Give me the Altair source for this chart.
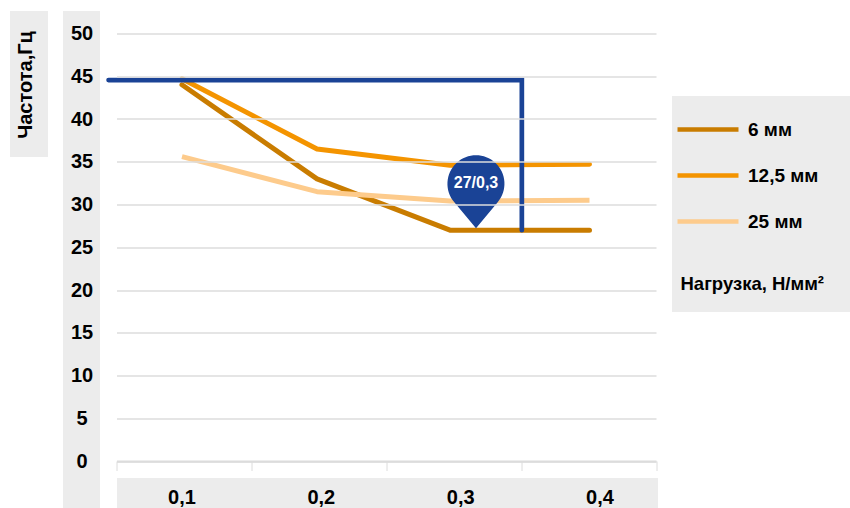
import altair as alt
import pandas as pd

FONT = "Liberation Sans"

# Chart values
loads = [0.1, 0.2, 0.3, 0.4]
load_labels = ["0,1", "0,2", "0,3", "0,4"]
series_names = ["6 мм", "12,5 мм", "25 мм"]
series_colors = ["#c97c00", "#f49400", "#fdcb8c"]
freq_6 = [44.0, 33.0, 27.0, 27.0]
freq_12 = [44.7, 36.5, 34.6, 34.7]
freq_25 = [35.6, 31.5, 30.4, 30.5]

# Working-point guide: horizontal at the limit frequency, then down to the curve
guide_x = [0.0456, 0.3515, 0.3515]
guide_y = [44.55, 44.55, 27.0]
pin_freq = [27]
pin_load = [0.3]
pin_text = ["27/0,3"]

BLUE = "#1a4396"
PANEL = "#ececec"
GRID = "#dcdcdc"

rows = []
for name, vals in zip(series_names, [freq_6, freq_12, freq_25]):
    for load, f in zip(loads, vals):
        rows.append({"load": load, "freq": f, "series": name})
lines_df = pd.DataFrame(rows)
guide_df = pd.DataFrame({"load": guide_x, "freq": guide_y, "order": [0, 1, 2]})
pin_df = pd.DataFrame({"load": pin_load, "freq": pin_freq, "text": pin_text})
axis_df = pd.DataFrame({"label": load_labels, "base": [0, 0, 0, 0]})

y_scale = alt.Scale(domain=[0, 50], nice=False, zero=True)
load_scale = alt.Scale(domain=loads, range=[65.5, 200.5, 333.5, 473], nice=False, zero=False)


def panel(x, x2, y, y2):
    return alt.Chart(axis_df).mark_rect(color=PANEL).encode(
        x=alt.value(x), x2=alt.value(x2), y=alt.value(y), y2=alt.value(y2)
    )


panels = [
    panel(-106.5, -68.5, -22.5, 123.5),
    panel(-53.5, -16.5, -22.5, 474.5),
    panel(0.5, 541.5, 444.5, 474.5),
    panel(555.5, 733.5, 62.5, 278.5),
]

# Frame: value axis with grid, plus the band axis that supplies the tick marks
frame = alt.Chart(axis_df).mark_point(opacity=0).encode(
    x=alt.X(
        "label:N",
        sort=load_labels,
        scale=alt.Scale(type="band", domain=load_labels, paddingInner=0, paddingOuter=0),
        axis=alt.Axis(
            title=None, labels=False, tickBand="extent", tickSize=9.5, tickColor=GRID,
            tickWidth=1, domainColor=GRID, domainWidth=2, grid=False, zindex=1,
        ),
    ),
    y=alt.Y(
        "base:Q",
        scale=y_scale,
        axis=alt.Axis(
            values=list(range(0, 51, 5)), grid=True, gridColor=GRID, gridWidth=1.5,
            domain=False, ticks=False, labelPadding=35, labelAlign="center",
            labelBaseline="middle", labelFont=FONT, labelFontSize=20, labelFontWeight="bold",
            labelColor="#000000", zindex=1, title="Частота,Гц", titleX=-91, titleY=51,
            titleAngle=270, titleAlign="center", titleBaseline="middle", titleFont=FONT,
            titleFontSize=20, titleFontWeight="bold", titleColor="#000000",
        ),
    ),
)

curve_encoding = dict(
    x=alt.X("load:Q", scale=load_scale, axis=None),
    y=alt.Y("freq:Q", scale=y_scale, axis=None),
    color=alt.Color(
        "series:N",
        scale=alt.Scale(domain=series_names, range=series_colors),
        sort=series_names,
        legend=alt.Legend(
            orient="none", legendX=558.5, legendY=73, title=None, symbolType="stroke",
            symbolSize=3721, symbolStrokeWidth=4.7, clipHeight=46, labelOffset=7,
            labelFont=FONT, labelFontSize=19, labelFontWeight="bold", labelColor="#000000",
            rowPadding=0, padding=0,
        ),
    ),
)

# The two darker curves end in round caps, the 25 mm curve ends square
round_curves = (
    alt.Chart(lines_df[lines_df["series"] != "25 мм"])
    .mark_line(strokeWidth=5, strokeCap="round", strokeJoin="round")
    .encode(**curve_encoding)
)
butt_curve = (
    alt.Chart(lines_df[lines_df["series"] == "25 мм"])
    .mark_line(strokeWidth=5, strokeCap="butt", strokeJoin="round")
    .encode(**curve_encoding)
)

guide = alt.Chart(guide_df).mark_line(
    color=BLUE, strokeWidth=4.7, strokeCap="round", strokeJoin="miter"
).encode(
    x=alt.X("load:Q", scale=load_scale, axis=None),
    y=alt.Y("freq:Q", scale=y_scale, axis=None),
    order="order:Q",
)

PIN_PATH = "M0,0 L-0.767,-0.919 A1,1 0 1 1 0.767,-0.919 Z"
pin = alt.Chart(pin_df).mark_point(
    shape=PIN_PATH, size=3249, filled=True, fill=BLUE, opacity=1, strokeWidth=0, xOffset=26, yOffset=-2
).encode(
    x=alt.X("load:Q", scale=load_scale, axis=None),
    y=alt.Y("freq:Q", scale=y_scale, axis=None),
)
pin_label = alt.Chart(pin_df).mark_text(
    color="#ffffff", font=FONT, fontSize=16, fontWeight="bold", dx=26, dy=-47
).encode(
    x=alt.X("load:Q", scale=load_scale, axis=None),
    y=alt.Y("freq:Q", scale=y_scale, axis=None),
    text="text:N",
)

x_labels = alt.Chart(axis_df).mark_text(
    font=FONT, fontSize=20, fontWeight="bold", color="#000000", baseline="middle"
).encode(
    x=alt.X(
        "label:N",
        sort=load_labels,
        scale=alt.Scale(type="point", domain=load_labels, range=[65.5, 483.5], padding=0),
        axis=None,
    ),
    y=alt.value(464),
    text="label:N",
)

load_title = alt.Chart(axis_df.head(1)).mark_text(
    font=FONT, fontSize=18.5, fontWeight="bold", color="#000000", align="left", baseline="middle"
).encode(x=alt.value(564), y=alt.value(250), text=alt.value("Нагрузка, Н/мм²"))

chart = (
    alt.layer(*panels, frame, round_curves, butt_curve, guide, pin, pin_label, x_labels, load_title)
    .resolve_scale(x="independent")
    .resolve_axis(y="independent")
    .properties(
        width=539.5,
        height=427.5,
        autosize=alt.AutoSizeParams(type="none"),
        padding={"left": 116.5, "top": 33.5, "right": 194, "bottom": 47},
    )
    .configure_view(stroke=None)
)

chart.save("out.html", embed_options={"renderer": "svg", "actions": False})
